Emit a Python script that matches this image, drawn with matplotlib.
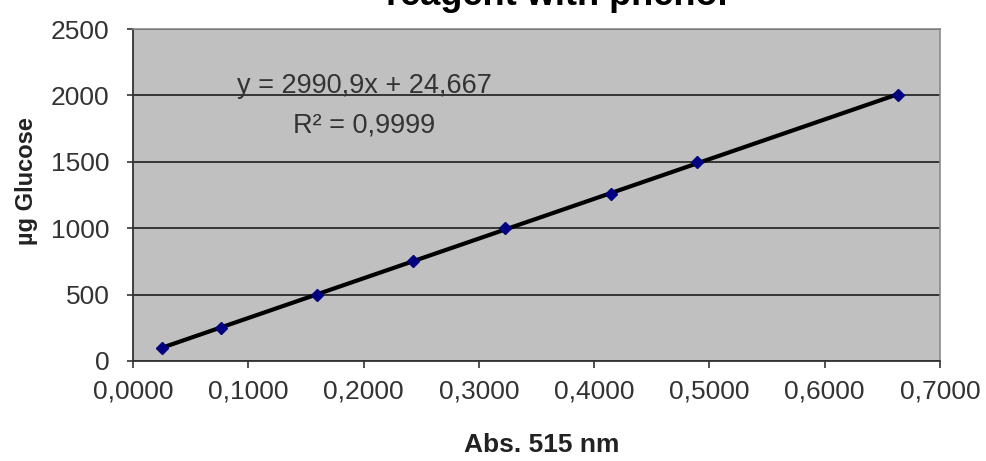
import matplotlib.pyplot as plt
from matplotlib.ticker import FuncFormatter, MultipleLocator

plt.rcParams['font.family'] = ['Liberation Sans', 'DejaVu Sans']

# standards: absorbance at 515 nm vs glucose amount
abs_515 = [0.025, 0.076, 0.160, 0.243, 0.323, 0.415, 0.489, 0.664]
glucose = [100, 250, 500, 750, 1000, 1260, 1500, 2000]

# linear trendline as reported on the chart
slope = 2990.9
intercept = 24.667
eq_text = 'y = 2990,9x + 24,667'
r2_text = 'R² = 0,9999'
title_text = 'reagent with phenol'

fig = plt.figure(figsize=(9.86, 4.61), dpi=100)
ax = fig.add_axes([133/986, 1-361/461, (940-133)/986, (361-29)/461])
ax.set_facecolor('#c0c0c0')

# trendline over the range of the standards
x_line = [min(abs_515), max(abs_515)]
y_line = [slope*x + intercept for x in x_line]
ax.plot(x_line, y_line, color='black', lw=3, zorder=3)
ax.plot(abs_515, glucose, ls='none', marker='D', ms=6, color='#000080', zorder=4)

ax.set_xlim(0, 0.7)
ax.set_ylim(0, 2500)
ax.xaxis.set_major_locator(MultipleLocator(0.1))
ax.yaxis.set_major_locator(MultipleLocator(500))
ax.xaxis.set_major_formatter(FuncFormatter(lambda v, p: f'{v:.4f}'.replace('.', ',')))
ax.grid(axis='y', color='#2a2a2a', lw=1.3)
ax.set_axisbelow(True)

for s in ['top', 'right']:
    ax.spines[s].set_color('#8a8a8a')
    ax.spines[s].set_linewidth(1.2)
for s in ['left', 'bottom']:
    ax.spines[s].set_color('#333333')
    ax.spines[s].set_linewidth(1.3)

ax.tick_params(axis='y', length=4, width=1.2, pad=13, labelsize=19, colors='#333333')
ax.tick_params(axis='x', length=5, width=1.2, pad=8, labelsize=19, colors='#333333')

ax.text(0.2005, 2018, eq_text, ha='center', va='baseline', fontsize=19.5, color='#333333')
ax.text(0.2005, 1724, r2_text, ha='center', va='baseline', fontsize=19.5, color='#333333')

fig.text(27/986, 1-181/461, 'µg Glucose', rotation=90, ha='center', va='center',
         fontsize=17, fontweight='bold', color='#222222')
fig.text(542/986, 1-445/461, 'Abs. 515 nm', ha='center', va='center',
         fontsize=19, fontweight='bold', color='#222222')
# title sits partly above the top edge, as in the original
fig.text(557/986, 1-5/461, title_text, ha='center', va='baseline',
         fontsize=26, fontweight='bold', color='black')

fig.savefig('out.png', dpi=100)
